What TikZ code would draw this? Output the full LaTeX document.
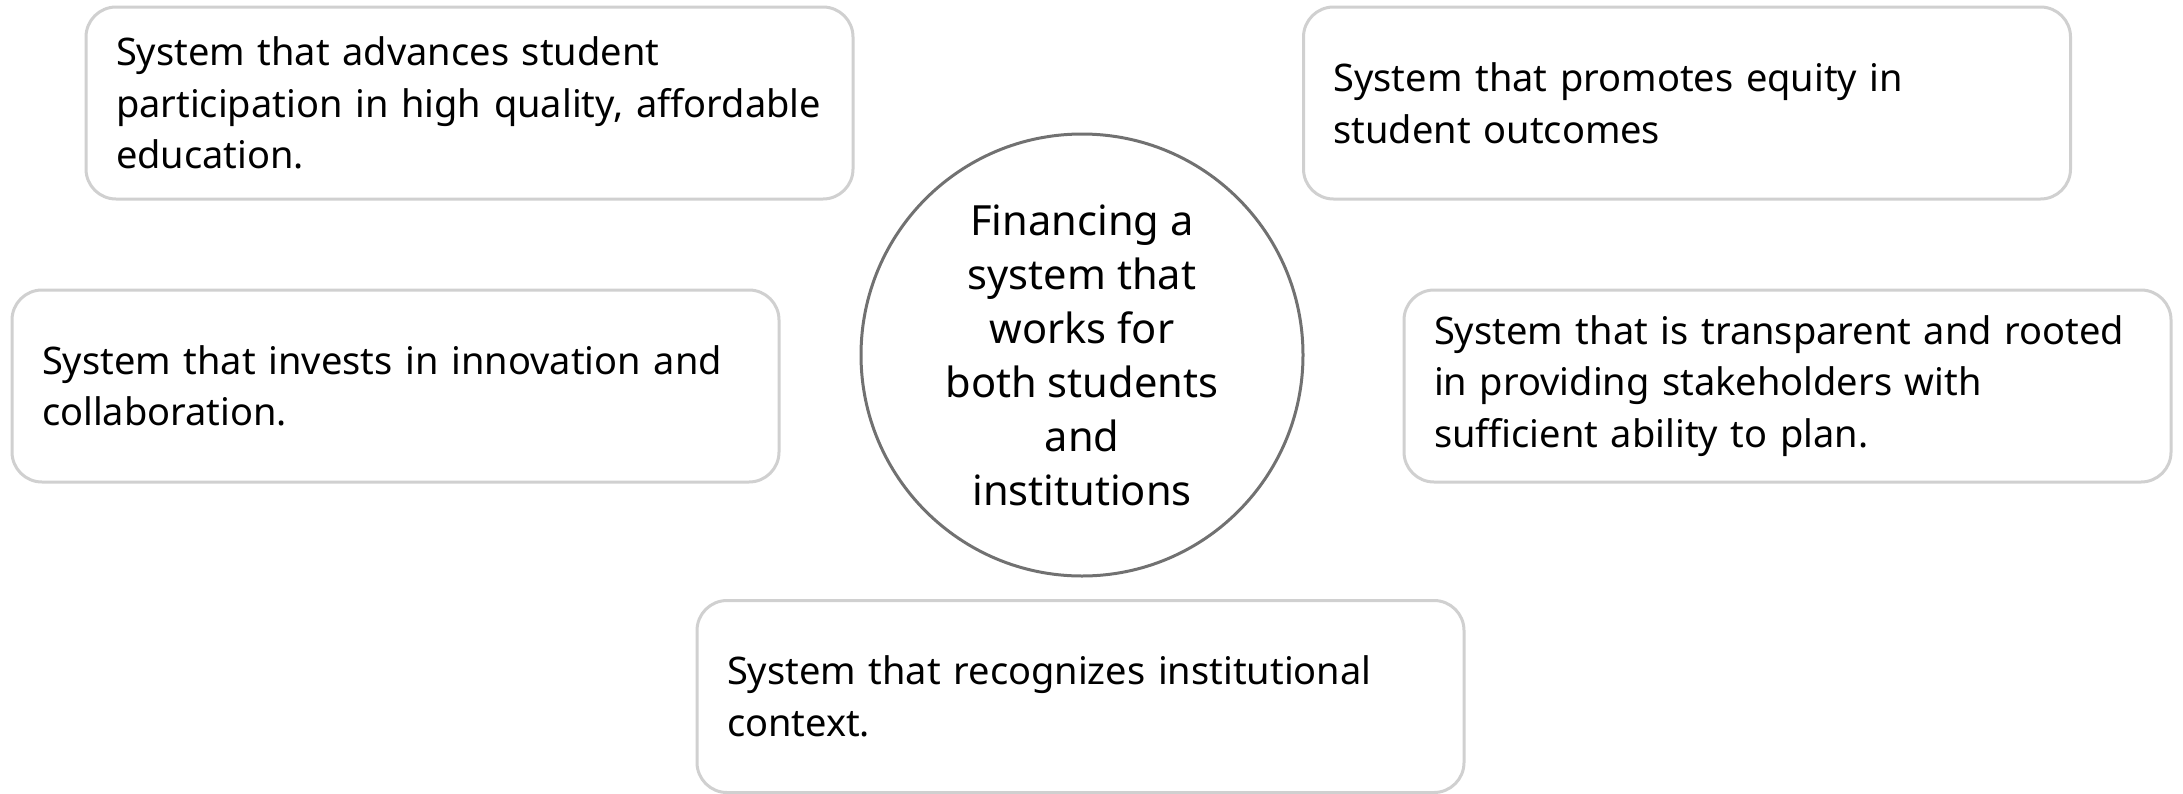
\documentclass[tikz,border=0pt]{standalone}
\usepackage{fontspec}
\setmainfont{Noto Sans}
\newfontfamily\boxfont{Noto Sans}
\newfontfamily\hubfont{Noto Sans}
\definecolor{boxgray}{HTML}{D0D0D0}
\definecolor{hubgray}{HTML}{717171}

\begin{document}
\begin{tikzpicture}[x=0.5pt,y=-0.5pt,
  goalbox/.style={draw=boxgray,line width=1.5pt,rounded corners=15pt,fill=white,
    minimum height=96pt,text width=353.5pt,inner xsep=15pt,align=left,
    font={\boxfont\fontsize{19}{25.75}\selectfont}},
  hub/.style={draw=hubgray,line width=1.5pt,circle,minimum size=221pt,inner sep=0pt,
    align=center,font={\hubfont\fontsize{20.8}{27}\selectfont}}]
\useasboundingbox (0,0) rectangle (2183,793);

%centre
\node[hub] (hub) at (1082,355) {Financing a\\system that\\works for\\both students\\and\\institutions};

%top row
\node[goalbox] (access) at (469.5,103) {System that advances student\\participation in high quality, affordable\\education.};
\node[goalbox] (equity) at (1687,103) {System that promotes equity in\\student outcomes};

%middle row
\node[goalbox] (innov) at (395.5,386) {System that invests in innovation and\\collaboration.};
\node[goalbox] (transp) at (1787.5,386) {System that is transparent and rooted\\in providing stakeholders with\\sufficient ability to plan.};

%bottom
\node[goalbox] (context) at (1080.5,696.5) {System that recognizes institutional\\context.};
\end{tikzpicture}
\end{document}
